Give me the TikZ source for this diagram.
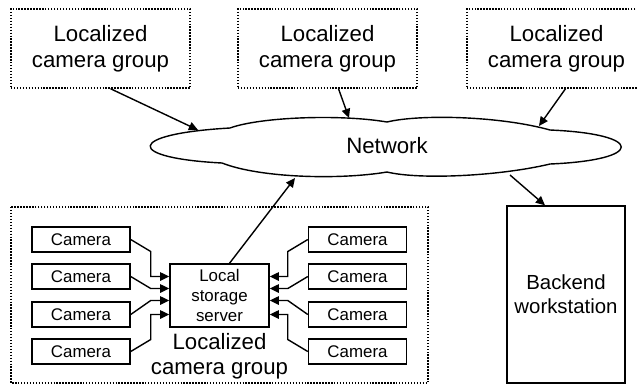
\documentclass[tikz,border=0pt]{standalone}
\usepackage{fontspec}
\setmainfont{Liberation Sans}
\usepackage{tikz}
\usetikzlibrary{calc, arrows.meta}

\begin{document}
\begin{tikzpicture}[x=0.025cm, y=-0.025cm, line width=1pt,
grp/.style={draw, dash pattern=on 1pt off 1.1pt, minimum width=4.475cm, minimum height=1.975cm, align=center, font=\fontsize{15.8}{18.5}\selectfont},
cam/.style={draw, minimum width=2.45cm, minimum height=0.625cm, inner sep=0pt, font=\fontsize{12}{14}\selectfont},
arr/.style={-{Triangle[length=6.5pt, width=6pt]}}]
\useasboundingbox (0,0) rectangle (637,384);
\node[grp] (g1) at (100.5,48.5) {Localized\\camera group};
\node[grp] (g2) at (327.5,48.5) {Localized\\camera group};
\node[grp] (g3) at (556.5,48.5) {Localized\\camera group};
\draw (230,128) .. controls (260,117) and (340,114) .. (387,122)
 .. controls (420,114) and (500,116) .. (550,130)
 .. controls (645,134) and (645,160) .. (550,164)
 .. controls (500,176) and (420,180) .. (387,172)
 .. controls (340,180) and (260,178) .. (222,163)
 .. controls (125,158) and (125,134) .. cycle;
\node[font=\fontsize{15.8}{18}\selectfont] (net) at (387,146) {Network};
\coordinate (n1) at (198,130);
\coordinate (n2) at (349,118);
\coordinate (n3) at (539,126);
\coordinate (n4) at (295,178);
\coordinate (n5) at (510,175);
\draw[arr] ($(g1.south)+(10,0)$) -- (n1);
\draw[arr] ($(g2.south)+(11,0)$) -- (n2);
\draw[arr] ($(g3.south)+(9,0)$) -- (n3);
\draw[dash pattern=on 1pt off 1.1pt] (11,207) rectangle (428,383);
\node[draw, minimum width=2.475cm, minimum height=1.575cm, inner sep=0pt, align=center, font=\fontsize{12}{14.2}\selectfont] (srv) at (219.5,295.5) {Local\\storage\\server};
\node[align=center, font=\fontsize{15.8}{17.5}\selectfont] (lbl) at (219.5,356) {Localized\\camera group};
\node[draw, minimum width=2.95cm, minimum height=4.425cm, align=center, font=\fontsize{14.5}{17}\selectfont] (bw) at (566,294.5) {Backend\\workstation};
\draw[arr] ($(srv.north)+(10,0)$) -- (n4);
\draw[arr] (n5) -- ($(bw.north)+(-21,0)$);
\foreach \i/\y/\dy/\o in {1/239.5/12/-19, 2/276.5/12/-7, 3/314.5/-14/5, 4/351.5/-12/19}{
\node[cam] (cl\i) at (81,\y) {Camera};
\node[cam] (cr\i) at (357.5,\y) {Camera};
\draw[arr] (cl\i.east) -- ++(20,\dy) |- ($(srv.west)+(0,\o)$);
\draw[arr] (cr\i.west) -- ++(-20,\dy) |- ($(srv.east)+(0,\o)$);
}
\end{tikzpicture}
\end{document}
